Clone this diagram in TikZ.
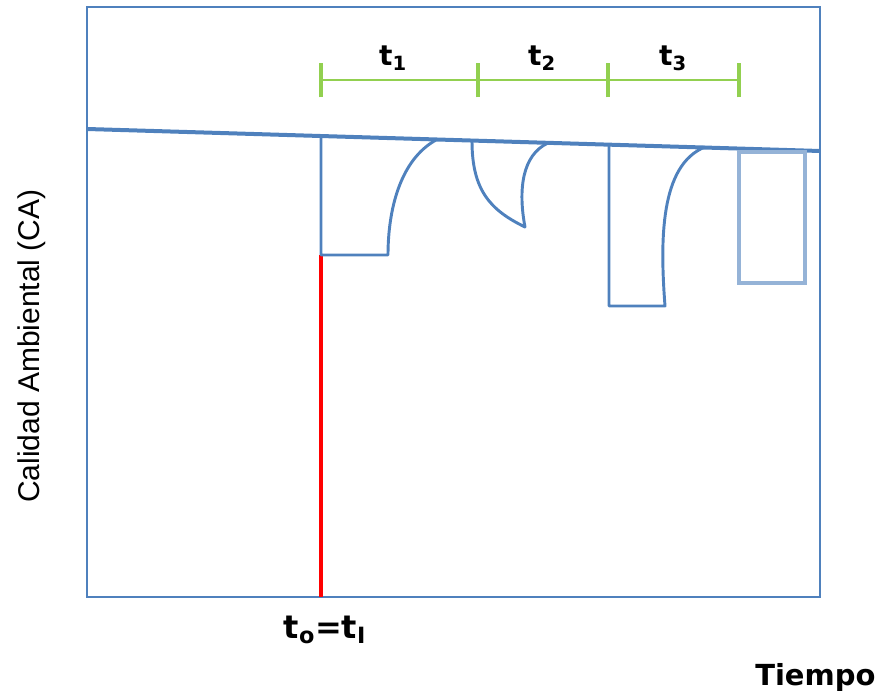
\documentclass[tikz,border=0pt]{standalone}
\usepackage{fontspec}
\setmainfont{Liberation Sans}
\newfontfamily\verd{DejaVu Sans}
\definecolor{cablue}{HTML}{4F81BD}
\definecolor{calight}{HTML}{95B3D7}
\definecolor{cagreen}{HTML}{92D050}
\begin{document}
\begin{tikzpicture}[x=0.75pt,y=-0.75pt,
  frameline/.style={draw=cablue,line width=2pt},
  curveline/.style={draw=cablue,line width=2.2pt,line join=round,line cap=round},
  greenbar/.style={draw=cagreen,line width=2pt},
  greentick/.style={draw=cagreen,line width=3pt},
  tlabel/.style={font=\verd\bfseries\fontsize{21}{23}\selectfont,inner sep=0pt}]
\useasboundingbox (0,0) rectangle (886,691);
% axes frame
\draw[frameline] (87,7) rectangle (820,597);
% reference quality level (slightly sloped)
\draw[draw=cablue,line width=3pt] (87,129) -- (820,151);
% time intervals
\coordinate (g0) at (321,80);
\coordinate (g1) at (478,80);
\coordinate (g2) at (608,80);
\coordinate (g3) at (739,80);
\draw[greenbar] (g0) -- (g3);
\foreach \g in {g0,g1,g2,g3}
  \draw[greentick] ([yshift=-13]\g) -- ([yshift=13]\g);
\node[tlabel] (l1) at (393,58) {t\textsubscript{1}};
\node[tlabel] (l2) at (542,58) {t\textsubscript{2}};
\node[tlabel] (l3) at (673,58) {t\textsubscript{3}};
% initial time marker
\draw[draw=red,line width=2.6pt] (321,255) -- (321,597);
% first impact and recovery
\draw[curveline] (321,136) -- (321,255) -- (388,255)
  .. controls (388,210) and (400,160) .. (436,140);
% second impact and recovery
\draw[curveline] (472,141) .. controls (472,190) and (490,210) .. (525,227)
  .. controls (518,190) and (522,155) .. (548,143);
% third impact and recovery
\draw[curveline] (609,145) -- (609,306) -- (665,306)
  .. controls (660,240) and (660,165) .. (705,147);
% projected next impact
\draw[draw=calight,line width=3.5pt] (739,152) rectangle (805,283);
% labels
\node[font=\verd\bfseries\fontsize{24}{26}\selectfont,inner sep=0pt] (t0) at (325,630) {t\textsubscript{o}=t\textsubscript{I}};
\node[font=\verd\bfseries\fontsize{21.75}{24}\selectfont,inner sep=0pt,anchor=base west] (tiempo) at (755,685) {Tiempo};
\node[font=\fontsize{22.5}{24}\selectfont,inner sep=0pt,rotate=90] (ca) at (32,346) {Calidad Ambiental (CA)};
\end{tikzpicture}
\end{document}
